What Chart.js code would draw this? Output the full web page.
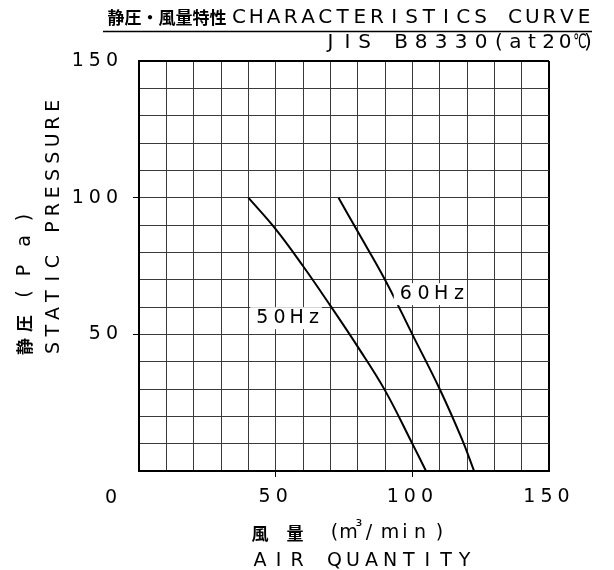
<!DOCTYPE html>
<html>
<head>
<meta charset="utf-8">
<script src="https://cdn.jsdelivr.net/npm/chart.js@4.4.1/dist/chart.umd.min.js"></script>
<style>
  html, body { margin: 0; padding: 0; background: #fff; }
  canvas { display: block; }
</style>
</head>
<body>
<canvas id="myChart" width="614" height="570"></canvas>
<script>
// air quantity (m3/min) vs static pressure (Pa)
const flow50 = [40, 50, 60, 70, 80, 90, 100, 105];
const pres50 = [100, 88.5, 75, 60.5, 45.5, 29.5, 10, 0];
const flow60 = [73, 79.5, 90, 100, 110, 118, 122.6];
const pres60 = [100, 88.5, 70, 50, 30, 12, 0];
const xTickLabels = [50, 100, 150];
const yTickLabels = [50, 100, 150];

const LATIN = '"DejaVu Sans", sans-serif';
const CJK = '"Noto Sans CJK JP", sans-serif';

// draw a string one char at a time, plotter style (x0 = centre of first char)
function chars(ctx, text, x0, y, adv, font) {
  ctx.font = font;
  ctx.textAlign = 'center';
  ctx.textBaseline = 'middle';
  [...text].forEach((ch, i) => ctx.fillText(ch, x0 + i * adv, y));
}

const sheetText = {
  id: 'sheetText',
  beforeDraw(chart) {
    chart.ctx.letterSpacing = '5px'; // used by the tick labels
  },
  afterDatasetsDraw(chart) {
    const ctx = chart.ctx;
    const xs = chart.scales.x, ys = chart.scales.y;
    ctx.save();
    ctx.letterSpacing = '0px';
    // curve labels on white boxes
    [['50Hz', 45.1, 55.9, 17.2], ['60Hz', 97.6, 64.7, 17.7]].forEach(([t, vx, vy, adv]) => {
      const px = xs.getPixelForValue(vx), py = ys.getPixelForValue(vy);
      ctx.fillStyle = '#fff';
      ctx.fillRect(px - 12, py - 11, adv * 3 + 20, 22);
      ctx.fillStyle = '#000';
      chars(ctx, t, px, py, adv, '19px ' + LATIN);
    });
    ctx.restore();
  },
  afterDraw(chart) {
    const ctx = chart.ctx;
    ctx.save();
    ctx.letterSpacing = '0px';
    ctx.fillStyle = '#000';

    // title
    chars(ctx, '静圧・風量特性', 116, 17.5, 17, 'bold 17px ' + CJK);
    chars(ctx, 'CHARACTERISTICS CURVE', 239, 17.5, 17.25, '20px ' + LATIN);
    ctx.strokeStyle = '#000';
    ctx.lineWidth = 1.6;
    ctx.beginPath();
    ctx.moveTo(103, 31.5);
    ctx.lineTo(592, 31.5);
    ctx.stroke();

    chars(ctx, 'JIS', 330.5, 42.5, 17, '20px ' + LATIN);
    chars(ctx, 'B8330', 401, 42.5, 20, '20px ' + LATIN);
    chars(ctx, '(at20', 499, 42.5, 16.5, '20px ' + LATIN);
    ctx.save();
    ctx.translate(580, 42.5);
    ctx.scale(0.6, 1);
    chars(ctx, '℃', 0, 0, 0, '20px ' + LATIN);
    ctx.restore();
    chars(ctx, ')', 588, 42.5, 0, '20px ' + LATIN);

    // origin label
    chars(ctx, '0', 111, 498, 0, '19px ' + LATIN);

    // y axis title (rotated)
    ctx.save();
    ctx.translate(25, 356);
    ctx.rotate(-Math.PI / 2);
    chars(ctx, '静', 9.5, 0, 0, 'bold 17px ' + CJK);
    chars(ctx, '圧', 32.5, 0, 0, 'bold 17px ' + CJK);
    chars(ctx, '(', 62, 0, 0, '19px ' + LATIN);
    chars(ctx, 'P', 85.5, 0, 0, '19px ' + LATIN);
    chars(ctx, 'a', 115, 0, 0, '19px ' + LATIN);
    chars(ctx, ')', 138.5, 0, 0, '19px ' + LATIN);
    ctx.restore();
    ctx.save();
    ctx.translate(54.5, 356);
    ctx.rotate(-Math.PI / 2);
    chars(ctx, 'STATIC PRESSURE', 8, 0, 17.3, '19px ' + LATIN);
    ctx.restore();

    // x axis title
    chars(ctx, '風', 260, 533.5, 0, 'bold 17px ' + CJK);
    chars(ctx, '量', 295, 533.5, 0, 'bold 17px ' + CJK);
    chars(ctx, '(', 334.5, 533.5, 0, '19px ' + LATIN);
    chars(ctx, 'm', 348.5, 533.5, 0, '19px ' + LATIN);
    chars(ctx, '³', 359, 528, 0, '17px ' + LATIN);
    chars(ctx, '/', 369, 533.5, 0, '19px ' + LATIN);
    chars(ctx, 'min', 390, 533.5, 15, '19px ' + LATIN);
    chars(ctx, ')', 439.5, 533.5, 0, '19px ' + LATIN);
    chars(ctx, 'AIR QUANTITY', 260, 561, 18.6, '19px ' + LATIN);

    ctx.restore();
  }
};

const edge = v => v === 150;
const marked = v => v === 50 || v === 100;

new Chart(document.getElementById('myChart'), {
  type: 'scatter',
  data: {
    datasets: [
      { label: '50Hz', data: flow50.map((x, i) => ({ x, y: pres50[i] })) },
      { label: '60Hz', data: flow60.map((x, i) => ({ x, y: pres60[i] })) }
    ].map(d => Object.assign(d, {
      showLine: true,
      borderColor: '#000',
      borderWidth: 2,
      pointRadius: 0,
      tension: 0.4
    }))
  },
  options: {
    responsive: false,
    animation: false,
    layout: { padding: { left: 59, right: 65, top: 61, bottom: 59 } },
    plugins: { legend: { display: false }, tooltip: { enabled: false }, title: { display: false } },
    scales: {
      x: {
        type: 'linear',
        min: 0, max: 150,
        afterFit: s => { s.height = 40; },
        border: { display: true, color: '#000', width: 2 },
        grid: {
          color: c => edge(c.tick.value) ? '#000' : '#3a3a3a',
          lineWidth: c => edge(c.tick.value) ? 2 : 1,
          tickColor: c => marked(c.tick.value) ? '#000' : 'rgba(0,0,0,0)',
          tickLength: 6
        },
        ticks: {
          stepSize: 10,
          autoSkip: false,
          maxRotation: 0,
          padding: 9,
          color: '#000',
          font: { family: 'DejaVu Sans', size: 19 },
          callback: v => xTickLabels.includes(v) ? String(v) : ''
        }
      },
      y: {
        type: 'linear',
        min: 0, max: 150,
        afterFit: s => { s.width = 80; },
        border: { display: true, color: '#000', width: 2 },
        grid: {
          color: c => edge(c.tick.value) ? '#000' : '#3a3a3a',
          lineWidth: c => edge(c.tick.value) ? 2 : 1,
          tickColor: c => marked(c.tick.value) ? '#000' : 'rgba(0,0,0,0)',
          tickLength: 6
        },
        ticks: {
          stepSize: 10,
          autoSkip: false,
          padding: 10,
          color: '#000',
          font: { family: 'DejaVu Sans', size: 19 },
          callback: v => yTickLabels.includes(v) ? String(v) : ''
        }
      }
    }
  },
  plugins: [sheetText]
});
</script>
</body>
</html>
